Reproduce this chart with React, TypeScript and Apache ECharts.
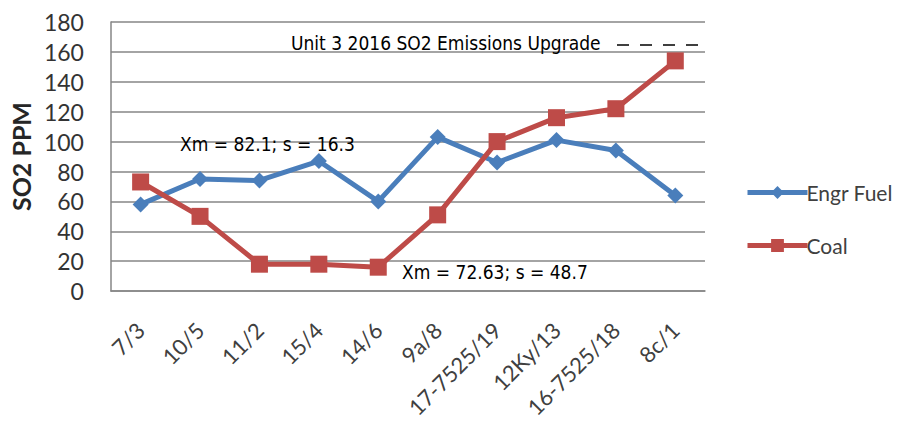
import React, { useEffect, useRef } from "react";
import * as echarts from "echarts";

const categories = ["7/3", "10/5", "11/2", "15/4", "14/6", "9a/8", "17-7525/19", "12Ky/13", "16-7525/18", "8c/1"];
const engrFuel = [58, 75, 74, 87, 60, 103, 86, 101, 94, 64];
const coal = [73, 50, 18, 18, 16, 51, 100, 116, 122, 154];
const yTicks = { min: 0, max: 180, interval: 20 };
const annotations = {
  upgrade: "Unit 3 2016 SO2 Emissions Upgrade",
  engr: "Xm = 82.1; s = 16.3",
  coal: "Xm = 72.63; s = 48.7",
};

const BLUE = "#4a7ebb";
const RED = "#be4b48";
const GRID = "#868686";
const LABEL_FONT = "Lato, 'Open Sans', sans-serif";
const NARROW_FONT = "'Liberation Sans Narrow', 'DejaVu Sans Condensed', 'Liberation Sans', sans-serif";

export default function App() {
  const ref = useRef<HTMLDivElement>(null);
  useEffect(() => {
    if (!ref.current) return;
    const chart = echarts.init(ref.current, undefined, { renderer: "svg" });
    chart.setOption({
      animation: false,
      backgroundColor: "#ffffff",
      grid: { left: 107, right: 198, top: 22, bottom: 126, containLabel: false },
      legend: {
        orient: "vertical",
        left: 740,
        top: 177,
        itemWidth: 60,
        itemHeight: 16,
        itemGap: 32,
        lineStyle: { width: 5 },
        textStyle: { fontFamily: LABEL_FONT, fontSize: 21, color: "#404040", padding: [0, 0, 0, -6] },
        data: ["Engr Fuel", "Coal"],
      },
      xAxis: {
        type: "category",
        data: categories,
        boundaryGap: true,
        axisLine: { show: true, lineStyle: { color: GRID, width: 1.5 } },
        axisTick: { show: false },
        axisLabel: {
          interval: 0,
          rotate: 45,
          margin: 35,
          fontFamily: LABEL_FONT,
          fontSize: 22,
          color: "#404040",
        },
        splitLine: { show: false },
      },
      yAxis: {
        type: "value",
        min: yTicks.min,
        max: yTicks.max,
        interval: yTicks.interval,
        name: "SO2 PPM",
        nameLocation: "middle",
        nameGap: 72,
        nameRotate: 90,
        nameTextStyle: { fontFamily: LABEL_FONT, fontSize: 25, fontWeight: "bold", color: "#262626" },
        axisLine: { show: true, lineStyle: { color: GRID, width: 1.5 } },
        axisTick: { show: false },
        axisLabel: { margin: 27, fontFamily: LABEL_FONT, fontSize: 23, color: "#333333" },
        splitLine: { show: true, lineStyle: { color: GRID, width: 1.5 } },
      },
      series: [
        {
          name: "Engr Fuel",
          type: "line",
          data: engrFuel,
          symbol: "diamond",
          symbolSize: 16,
          lineStyle: { color: BLUE, width: 5 },
          itemStyle: { color: BLUE },
          z: 3,
        },
        {
          name: "Coal",
          type: "line",
          data: coal,
          symbol: "rect",
          symbolSize: 17,
          lineStyle: { color: RED, width: 5 },
          itemStyle: { color: RED },
          z: 4,
        },
      ],
      graphic: [
        {
          type: "text",
          left: 291,
          top: 33,
          style: { text: annotations.upgrade, font: `19px ${NARROW_FONT}`, fill: "#000" },
          z: 10,
        },
        {
          type: "line",
          shape: { x1: 617, y1: 45, x2: 708, y2: 45 },
          style: { stroke: "#000", lineWidth: 1.5, lineDash: [12, 11] },
          z: 10,
        },
        {
          type: "text",
          left: 180,
          top: 134,
          style: { text: annotations.engr, font: `19px ${NARROW_FONT}`, fill: "#000" },
          z: 10,
        },
        {
          type: "text",
          left: 402,
          top: 262,
          style: { text: annotations.coal, font: `19px ${NARROW_FONT}`, fill: "#000" },
          z: 10,
        },
      ],
    });
    return () => chart.dispose();
  }, []);
  return (
    <div
      ref={ref}
      style={{ position: "fixed", left: 0, top: 0, width: 903, height: 421, background: "#fff" }}
    />
  );
}
